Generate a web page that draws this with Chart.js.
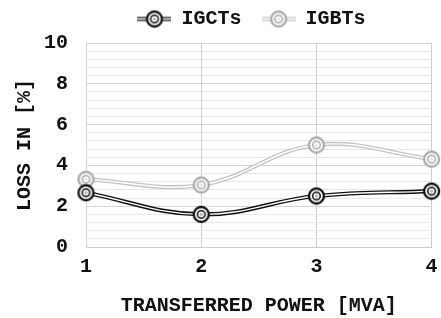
<!DOCTYPE html>
<html><head><meta charset="utf-8">
<script src="https://cdn.jsdelivr.net/npm/chart.js@4/dist/chart.umd.min.js"></script>
<style>html,body{margin:0;padding:0;background:#fff}#wrap{width:441px;height:318px}</style>
</head><body><div id="wrap"><canvas id="c" width="441" height="318"></canvas></div>
<script>
const categories = ['1', '2', '3', '4'];
const igcts = [2.66, 1.6, 2.5, 2.74];
const igbts = [3.32, 3.04, 5.0, 4.31];
const seriesNames = ['IGCTs', 'IGBTs'];
const yTickLabels = [0, 2, 4, 6, 8, 10];

const FONT = '"Liberation Mono", "Courier New", monospace';
const FS = 20;
const dark = '#111111', light = '#c4c4c4';

function makeMarker(color, lineColor, withLine) {
  const w = withLine ? 34 : 19, h = 19;
  const c = document.createElement('canvas');
  c.width = w; c.height = h;
  const x = c.getContext('2d');
  const cx = w / 2, cy = h / 2;
  if (withLine) {
    x.lineCap = 'butt';
    x.strokeStyle = lineColor; x.lineWidth = 4;
    x.beginPath(); x.moveTo(0, cy); x.lineTo(w, cy); x.stroke();
    x.strokeStyle = '#fff'; x.lineWidth = 1.4;
    x.beginPath(); x.moveTo(0, cy); x.lineTo(w, cy); x.stroke();
  }
  x.fillStyle = '#fff';
  x.beginPath(); x.arc(cx, cy, 7.5, 0, Math.PI * 2); x.fill();
  x.strokeStyle = color; x.lineWidth = 2.3;
  x.stroke();
  x.lineWidth = 1.5;
  x.beginPath(); x.arc(cx, cy, 3.8, 0, Math.PI * 2); x.stroke();
  x.fillStyle = color; x.globalAlpha = 0.35;
  x.beginPath(); x.arc(cx, cy, 1.5, 0, Math.PI * 2); x.fill();
  return c;
}
const mkDark = makeMarker(dark, dark, false);
const mkLight = makeMarker('#aaaaaa', light, false);
const lgDark = makeMarker(dark, dark, true);
const lgLight = makeMarker('#aaaaaa', light, true);

function pair(label, data, color, marker, orderBase) {
  return [
    { label: label + '_base', data: data, borderColor: color, borderWidth: 4.2, pointRadius: 0,
      tension: 0.4, fill: false, order: orderBase + 1 },
    { label: label, data: data, borderColor: '#ffffff', borderWidth: 1.4, pointStyle: marker,
      pointRadius: 8, pointHoverRadius: 8, tension: 0.4, fill: false, order: orderBase }
  ];
}

const datasets = [
  ...pair(seriesNames[1], igbts, light, mkLight, 3),
  ...pair(seriesNames[0], igcts, dark, mkDark, 1)
];

const legendShift = {
  id: 'legendShift',
  afterLayout(chart) {
    const lg = chart.legend;
    if (lg) { lg.left += 29; lg.right += 29; lg.top -= 4; lg.bottom -= 4; }
  }
};

new Chart(document.getElementById('c'), {
  type: 'line',
  data: { labels: categories, datasets: datasets },
  plugins: [legendShift],
  options: {
    responsive: false,
    animation: false,
    layout: { padding: { left: 4, right: 0, top: 0, bottom: 0 } },
    plugins: {
      tooltip: { enabled: false },
      legend: {
        position: 'top',
        labels: {
          usePointStyle: true,
          pointStyleWidth: 34,
          boxHeight: 18,
          padding: 8,
          color: '#111',
          font: { family: FONT, size: FS, weight: 'bold' },
          generateLabels: function () {
            return [
              { text: seriesNames[0] + ' ', pointStyle: lgDark, datasetIndex: 3, hidden: false, fontColor: '#111', lineWidth: 0, strokeStyle: 'transparent', fillStyle: 'transparent' },
              { text: seriesNames[1], pointStyle: lgLight, datasetIndex: 1, hidden: false, fontColor: '#111', lineWidth: 0, strokeStyle: 'transparent', fillStyle: 'transparent' }
            ];
          }
        }
      }
    },
    scales: {
      x: {
        offset: false,
        grid: { color: '#cfcfcf', lineWidth: 1, drawTicks: false },
        border: { color: '#cfcfcf' },
        ticks: { color: '#111', padding: 8, font: { family: FONT, size: FS, weight: 'bold' } },
        title: { display: true, text: 'TRANSFERRED POWER [MVA]', color: '#111',
                 padding: { top: 15, bottom: 0 }, font: { family: FONT, size: FS, weight: 'bold' } },
        afterFit: s => { s.paddingRight = 9; s.paddingLeft = 0; s.height = 71; }
      },
      y: {
        min: yTickLabels[0], max: yTickLabels[yTickLabels.length - 1],
        grid: { drawTicks: false,
                color: ctx => (yTickLabels.some(t => Math.abs(t - ctx.tick.value) < 1e-6) ? '#d4d4d4' : '#e8e8e8') },
        border: { color: '#d4d4d4' },
        ticks: {
          stepSize: 0.4, autoSkip: false, padding: 18, color: '#111',
          font: { family: FONT, size: FS, weight: 'bold' },
          callback: v => (yTickLabels.some(t => Math.abs(t - v) < 1e-6) ? String(Math.round(v)) : '')
        },
        title: { display: true, text: 'LOSS IN [%]', color: '#111', padding: { top: 9, bottom: 6 },
                 font: { family: FONT, size: FS, weight: 'bold' } },
        afterFit: s => { s.width = 82; s.paddingTop = 43; s.paddingBottom = 0; }
      }
    }
  }
});
</script>
</body></html>
